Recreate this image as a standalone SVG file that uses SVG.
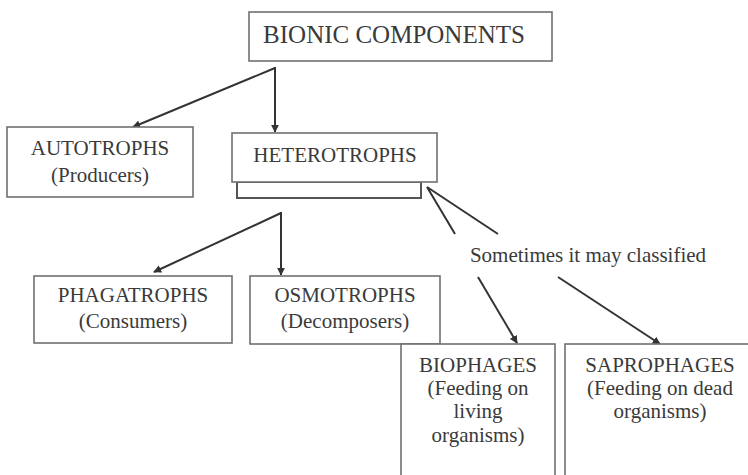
<svg xmlns="http://www.w3.org/2000/svg" width="748" height="475" viewBox="0 0 748 475">
<defs>
<style>
.box{fill:#fff;stroke:#707070;stroke-width:1.6}
.t{font-family:"Liberation Serif","Times New Roman",serif;font-size:21px;fill:#3a3a3a;text-anchor:middle}
.big{font-size:25px}
.c{fill:none;stroke:#333;stroke-width:2}
</style>
<marker id="ah" viewBox="0 0 10 10" refX="9" refY="5" markerWidth="4" markerHeight="4" orient="auto" markerUnits="strokeWidth">
<path d="M0,0 L10,5 L0,10 z" fill="#333"/>
</marker>
</defs>
<rect width="748" height="475" fill="#fff"/>
<g id="connectors">
<line class="c" x1="275" y1="68" x2="133" y2="127" marker-end="url(#ah)"/>
<line class="c" x1="275" y1="67" x2="275" y2="132" marker-end="url(#ah)"/>
<line class="c" x1="281" y1="213" x2="154" y2="272" marker-end="url(#ah)"/>
<line class="c" x1="281" y1="212" x2="281" y2="275" marker-end="url(#ah)"/>
<polyline class="c" points="455,234 427,187 498,234"/>
<line class="c" x1="478" y1="277" x2="517" y2="343" marker-end="url(#ah)"/>
<line class="c" x1="558" y1="277" x2="660" y2="344" marker-end="url(#ah)"/>
</g>
<g id="bionic">
<rect class="box" x="249" y="12" width="303" height="49"/>
<text class="t big" x="394" y="43">BIONIC COMPONENTS</text>
</g>
<g id="autotrophs">
<rect class="box" x="7" y="127" width="186" height="70"/>
<text class="t" x="100" y="155">AUTOTROPHS</text>
<text class="t" x="100" y="182">(Producers)</text>
</g>
<g id="heterotrophs">
<rect class="box" x="237" y="182" width="184" height="16" style="stroke:#555;stroke-width:2"/>
<rect class="box" x="232" y="133" width="205" height="49"/>
<text class="t" x="335" y="162">HETEROTROPHS</text>
</g>
<g id="label">
<text class="t" x="588" y="262">Sometimes it may classified</text>
</g>
<g id="phagatrophs">
<rect class="box" x="34" y="276" width="198" height="67"/>
<text class="t" x="133" y="302">PHAGATROPHS</text>
<text class="t" x="133" y="328">(Consumers)</text>
</g>
<g id="osmotrophs">
<rect class="box" x="250" y="276" width="190" height="68"/>
<text class="t" x="345" y="302">OSMOTROPHS</text>
<text class="t" x="345" y="328">(Decomposers)</text>
</g>
<g id="biophages">
<rect class="box" x="401" y="344" width="154" height="140"/>
<text class="t" x="478" y="372">BIOPHAGES</text>
<text class="t" x="478" y="395">(Feeding on</text>
<text class="t" x="478" y="418">living</text>
<text class="t" x="478" y="442">organisms)</text>
</g>
<g id="saprophages">
<rect class="box" x="565" y="344" width="190" height="140"/>
<text class="t" x="660" y="372">SAPROPHAGES</text>
<text class="t" x="660" y="395">(Feeding on dead</text>
<text class="t" x="660" y="418">organisms)</text>
</g>
</svg>
